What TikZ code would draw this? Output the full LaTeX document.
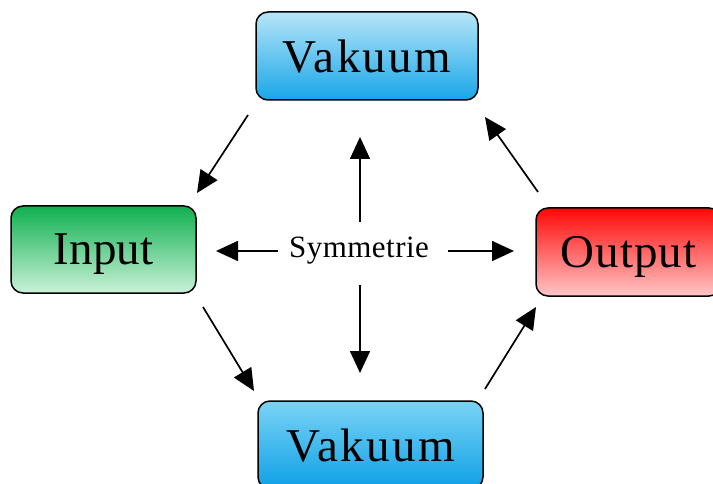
\documentclass[tikz,border=0pt]{standalone}
\usepackage{fontspec}
\setmainfont{Liberation Serif}
\usetikzlibrary{arrows.meta}
\definecolor{vaktop}{RGB}{182,229,248}
\definecolor{vakbot}{RGB}{24,166,232}
\definecolor{vak2top}{RGB}{122,211,245}
\definecolor{vak2bot}{RGB}{14,160,230}
\definecolor{intop}{RGB}{16,176,80}
\definecolor{inbot}{RGB}{202,241,216}
\definecolor{outtop}{RGB}{255,8,8}
\definecolor{outbot}{RGB}{255,198,198}
\begin{document}
\begin{tikzpicture}[x=1pt,y=-1pt,
  box/.style={draw=black, line width=1.5pt, rounded corners=12pt, inner sep=0pt,
    font=\fontsize{47}{50}\selectfont, text depth=0pt},
  arr/.style={line width=1.7pt, -{Triangle[length=22pt,width=20pt]}}]
\useasboundingbox (0,0) rectangle (713,484);
\clip (0,0) rectangle (713,484);
\node[box, minimum width=222pt, minimum height=88pt, top color=vaktop, bottom color=vakbot] (vtop) at (367,56) {\addfontfeatures{LetterSpace=5}Vakuum};
\node[box, minimum width=185pt, minimum height=87pt, top color=intop, bottom color=inbot] (in) at (103.5,249.5) {Input};
\node[box, minimum width=185pt, minimum height=88pt, top color=outtop, bottom color=outbot] (out) at (628.5,252) {\addfontfeatures{LetterSpace=2.5}Output};
\node[box, minimum width=225pt, minimum height=88pt, top color=vak2top, bottom color=vak2bot] (vbot) at (370.5,445) {\addfontfeatures{LetterSpace=5}Vakuum};
\node[font=\fontsize{31}{34}\selectfont, inner sep=0pt] (sym) at (359,251) {\addfontfeatures{LetterSpace=1.5}Symmetrie};
% free ends
\coordinate (a1) at (248,115); \coordinate (a2) at (197,193);
\coordinate (b1) at (203,307); \coordinate (b2) at (254,391);
\coordinate (c1) at (485,389); \coordinate (c2) at (536,307);
\coordinate (d1) at (538,192); \coordinate (d2) at (485,117);
\coordinate (u1) at (360,222); \coordinate (u2) at (360,137);
\coordinate (w1) at (360,285); \coordinate (w2) at (360,373);
\coordinate (l1) at (278,251); \coordinate (l2) at (216,251);
\coordinate (r1) at (448,251); \coordinate (r2) at (514,251);
\draw[arr] (a1) -- (a2);
\draw[arr] (b1) -- (b2);
\draw[arr] (c1) -- (c2);
\draw[arr] (d1) -- (d2);
\draw[arr] (u1) -- (u2);
\draw[arr] (w1) -- (w2);
\draw[arr] (l1) -- (l2);
\draw[arr] (r1) -- (r2);
\end{tikzpicture}
\end{document}
